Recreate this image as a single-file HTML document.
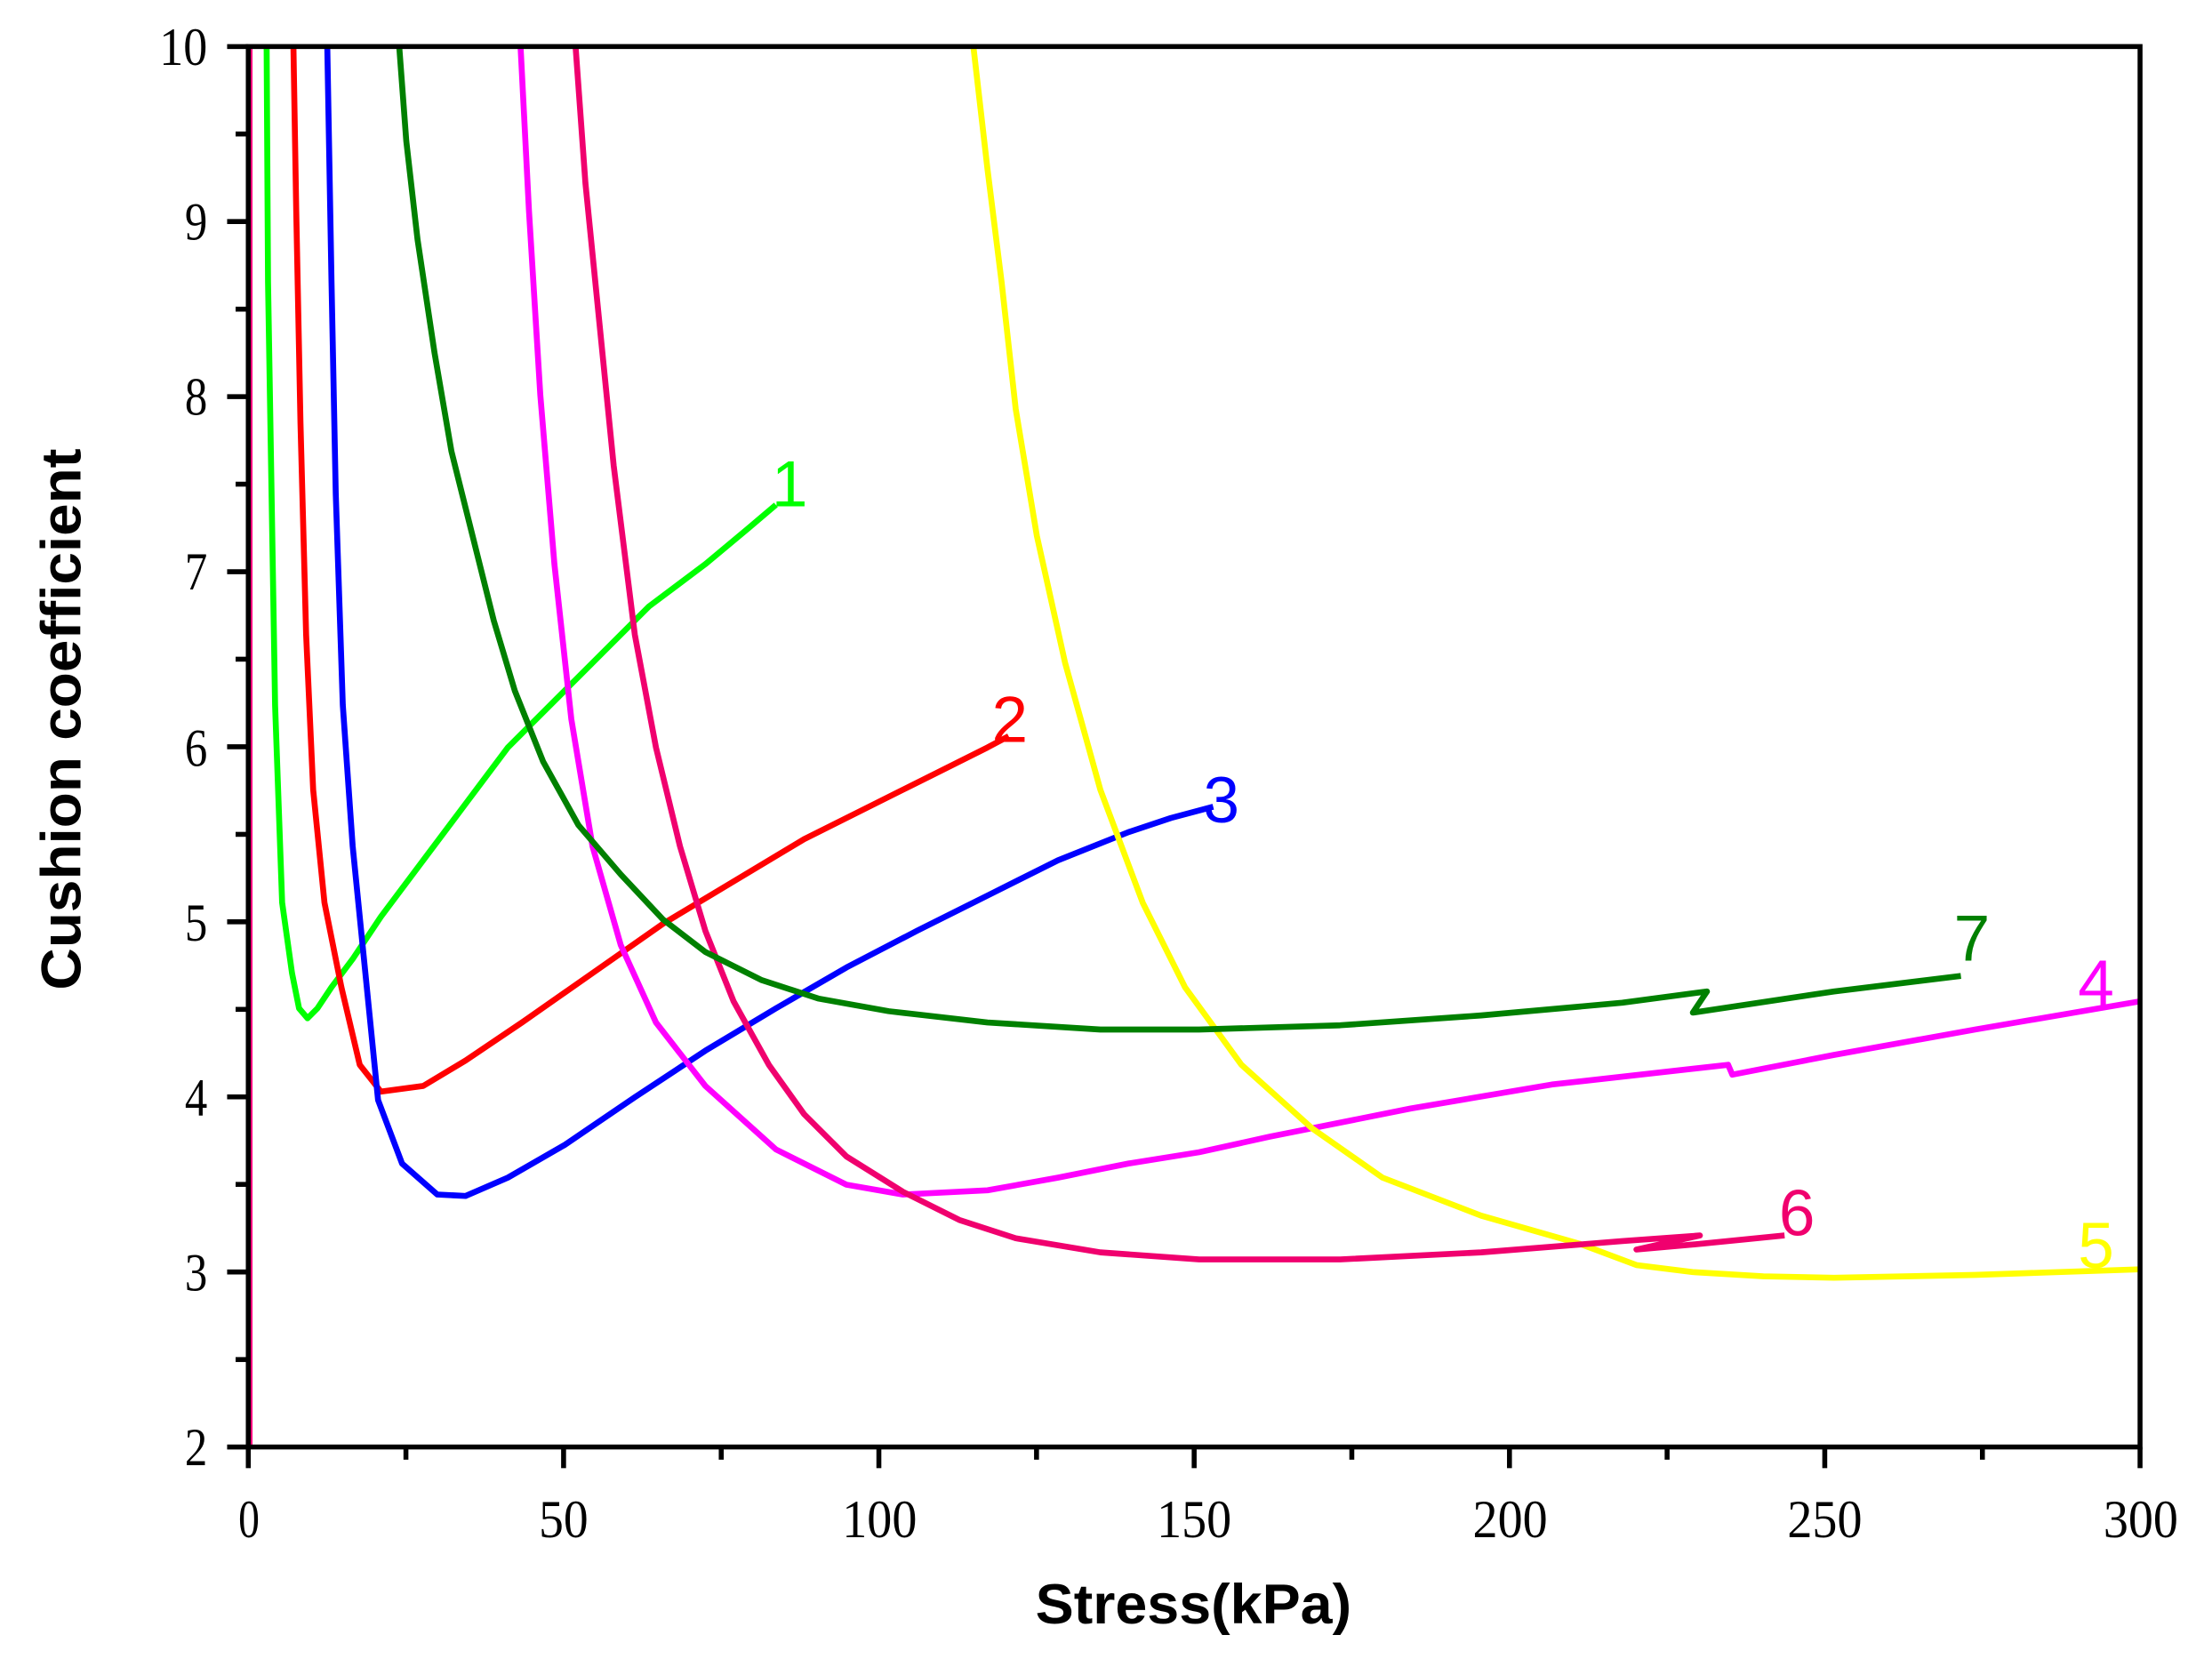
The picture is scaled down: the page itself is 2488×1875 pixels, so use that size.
<!DOCTYPE html>
<html><head><meta charset="utf-8"><style>
html,body{margin:0;padding:0;background:#fff;}
svg{display:block;}
.t{font-family:"Liberation Serif",serif;font-size:38px;fill:#000;}
.ax{font-family:"Liberation Sans",sans-serif;font-weight:bold;font-size:40px;fill:#000;}
.lb{font-family:"Liberation Sans",sans-serif;font-size:46px;}
polyline{fill:none;stroke-width:4.2;stroke-linejoin:round;}
</style></head><body>
<svg width="2488" height="1875" viewBox="0 0 1568 1182" preserveAspectRatio="none" xmlns="http://www.w3.org/2000/svg">
<rect width="1568" height="1182" fill="#fff"/>
<line x1="177" y1="33" x2="177" y2="1026" stroke="#ff0080" stroke-width="4"/>
<polyline stroke="#00ff00" points="189,33 190,200 195,500 200,640 207,690 212,715 218,722 225,715 235,700 250,680 270,650 300,610 330,570 360,530 400,490 430,460 460,430 500,400 530,375 550,358"/>
<polyline stroke="#ff0000" points="208,33 210,150 213,300 217,450 222,560 230,640 242,700 255,755 270,774 300,770 330,752 370,725 420,690 470,655 520,625 570,595 620,570 660,550 700,530 715,522"/>
<polyline stroke="#0000ff" points="232,33 235,200 238,350 243,500 250,600 258,680 268,780 285,825 310,847 330,848 360,835 400,812 450,778 500,745 550,715 600,686 650,660 700,635 750,610 800,590 830,580 860,572"/>
<polyline stroke="#ff00ff" points="369,33 375,150 383,280 393,400 405,510 420,600 440,670 465,725 500,770 550,815 600,840 640,847 700,844 750,835 800,825 850,817 900,806 1000,786 1100,769 1225,755 1228,762 1300,748 1400,730 1517,710"/>
<polyline stroke="#ffff00" points="690,33 700,120 710,200 720,290 735,380 755,470 780,560 810,640 840,700 880,755 930,800 980,835 1050,862 1120,882 1160,897 1200,902 1250,905 1300,906 1400,904 1517,900"/>
<polyline stroke="#f0006e" points="408,33 415,130 425,230 435,330 450,450 465,530 482,600 500,660 520,710 545,755 570,790 600,820 640,845 680,865 720,878 780,888 850,893 950,893 1050,888 1150,880 1205,876 1160,886 1205,882 1265,876"/>
<polyline stroke="#008000" points="283,33 288,100 296,170 308,250 320,320 335,380 350,440 365,490 385,540 410,585 440,620 470,652 500,675 540,695 580,708 630,717 700,725 780,730 850,730 950,727 1050,720 1150,711 1210,703 1200,718 1300,703 1390,692"/>
<text class="lb" x="547" y="359" fill="#00ff00">1</text>
<text class="lb" x="703" y="526" fill="#ff0000">2</text>
<text class="lb" x="853" y="583" fill="#0000ff">3</text>
<text class="lb" x="1473" y="713" fill="#ff00ff">4</text>
<text class="lb" x="1473" y="899" fill="#ffff00">5</text>
<text class="lb" x="1261" y="876" fill="#f0006e">6</text>
<text class="lb" x="1385" y="681" fill="#008000">7</text>
<rect x="176" y="33" width="1341" height="993" fill="none" stroke="#000" stroke-width="3.5"/>
<g stroke="#000" stroke-width="3.5">
<line x1="176" y1="1026" x2="176" y2="1041"/><line x1="399.5" y1="1026" x2="399.5" y2="1041"/><line x1="623" y1="1026" x2="623" y2="1041"/><line x1="846.5" y1="1026" x2="846.5" y2="1041"/><line x1="1070" y1="1026" x2="1070" y2="1041"/><line x1="1293.5" y1="1026" x2="1293.5" y2="1041"/><line x1="1517" y1="1026" x2="1517" y2="1041"/>
<line x1="287.75" y1="1026" x2="287.75" y2="1035"/><line x1="511.25" y1="1026" x2="511.25" y2="1035"/><line x1="734.75" y1="1026" x2="734.75" y2="1035"/><line x1="958.25" y1="1026" x2="958.25" y2="1035"/><line x1="1181.75" y1="1026" x2="1181.75" y2="1035"/><line x1="1405.25" y1="1026" x2="1405.25" y2="1035"/>
<line x1="161" y1="1026" x2="176" y2="1026"/><line x1="161" y1="901.9" x2="176" y2="901.9"/><line x1="161" y1="777.75" x2="176" y2="777.75"/><line x1="161" y1="653.6" x2="176" y2="653.6"/><line x1="161" y1="529.5" x2="176" y2="529.5"/><line x1="161" y1="405.4" x2="176" y2="405.4"/><line x1="161" y1="281.25" x2="176" y2="281.25"/><line x1="161" y1="157.1" x2="176" y2="157.1"/><line x1="161" y1="33" x2="176" y2="33"/>
<line x1="167" y1="964" x2="176" y2="964"/><line x1="167" y1="839.8" x2="176" y2="839.8"/><line x1="167" y1="715.7" x2="176" y2="715.7"/><line x1="167" y1="591.6" x2="176" y2="591.6"/><line x1="167" y1="467.4" x2="176" y2="467.4"/><line x1="167" y1="343.3" x2="176" y2="343.3"/><line x1="167" y1="219.2" x2="176" y2="219.2"/><line x1="167" y1="95" x2="176" y2="95"/>
</g>
<g class="t" lengthAdjust="spacingAndGlyphs">
<text x="169" y="1090" textLength="15" lengthAdjust="spacingAndGlyphs">0</text>
<text x="382" y="1090" textLength="35" lengthAdjust="spacingAndGlyphs">50</text>
<text x="597" y="1090" textLength="53" lengthAdjust="spacingAndGlyphs">100</text>
<text x="820" y="1090" textLength="53" lengthAdjust="spacingAndGlyphs">150</text>
<text x="1044" y="1090" textLength="53" lengthAdjust="spacingAndGlyphs">200</text>
<text x="1267" y="1090" textLength="53" lengthAdjust="spacingAndGlyphs">250</text>
<text x="1491" y="1090" textLength="53" lengthAdjust="spacingAndGlyphs">300</text>
<text x="131" y="1039" textLength="16" lengthAdjust="spacingAndGlyphs">2</text>
<text x="131" y="915" textLength="16" lengthAdjust="spacingAndGlyphs">3</text>
<text x="131" y="791" textLength="16" lengthAdjust="spacingAndGlyphs">4</text>
<text x="131" y="667" textLength="16" lengthAdjust="spacingAndGlyphs">5</text>
<text x="131" y="543" textLength="16" lengthAdjust="spacingAndGlyphs">6</text>
<text x="131" y="418" textLength="16" lengthAdjust="spacingAndGlyphs">7</text>
<text x="131" y="294" textLength="16" lengthAdjust="spacingAndGlyphs">8</text>
<text x="131" y="170" textLength="16" lengthAdjust="spacingAndGlyphs">9</text>
<text x="113" y="46" textLength="34" lengthAdjust="spacingAndGlyphs">10</text>
</g>
<text class="ax" x="846" y="1151" text-anchor="middle" textLength="224" lengthAdjust="spacingAndGlyphs">Stress(kPa)</text>
<text class="ax" transform="translate(57,510) rotate(-90)" text-anchor="middle" textLength="384" lengthAdjust="spacingAndGlyphs">Cushion coefficient</text>
</svg>
</body></html>
